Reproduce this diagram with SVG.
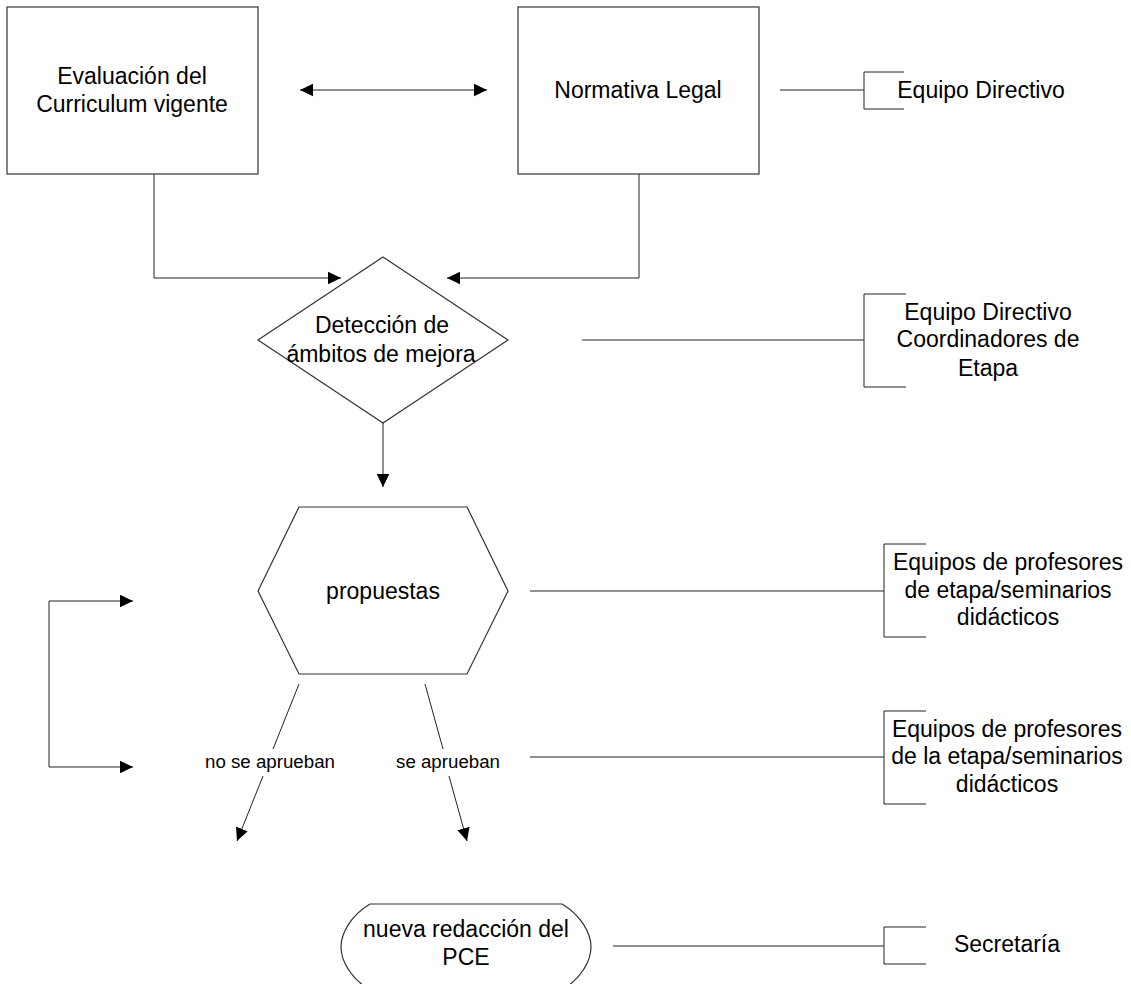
<svg xmlns="http://www.w3.org/2000/svg" width="1131" height="984" viewBox="0 0 1131 984">
<style>
.shape{fill:#fff;stroke:#333;stroke-width:1.2}
.ln{fill:none;stroke:#222;stroke-width:1}
.t{font-family:"Liberation Sans",Arial,sans-serif;font-size:23px;fill:#000;text-anchor:middle}
.s{font-family:"Liberation Sans",Arial,sans-serif;font-size:18.7px;fill:#000;text-anchor:middle}
</style>
<defs>
<marker id="ah" markerUnits="userSpaceOnUse" markerWidth="14" markerHeight="14" refX="13" refY="6.3" orient="auto-start-reverse" viewBox="0 0 14 13">
<path d="M0,0 L13,6.3 L0,12.6 Z" fill="#000"/>
</marker>
</defs>
<rect width="1131" height="984" fill="#fff"/>
<g id="connectors">
<line class="ln" x1="300" y1="90" x2="487" y2="90" marker-start="url(#ah)" marker-end="url(#ah)"/>
<polyline class="ln" points="154,174 154,278 341,278" marker-end="url(#ah)"/>
<polyline class="ln" points="639,174 639,278 447,278" marker-end="url(#ah)"/>
<line class="ln" x1="383" y1="423" x2="383" y2="487" marker-end="url(#ah)"/>
<polyline class="ln" points="133,601 49,601 49,767 133,767" marker-start="url(#ah)" marker-end="url(#ah)"/>
<line class="ln" x1="299" y1="684" x2="273" y2="749"/>
<line class="ln" x1="263" y1="776" x2="237" y2="841" marker-end="url(#ah)"/>
<line class="ln" x1="425" y1="684" x2="443" y2="749"/>
<line class="ln" x1="449" y1="776" x2="467" y2="841" marker-end="url(#ah)"/>
<line class="ln" x1="780" y1="90" x2="864" y2="90"/>
<line class="ln" x1="582" y1="340" x2="864" y2="340"/>
<line class="ln" x1="530" y1="591" x2="884" y2="591"/>
<line class="ln" x1="530" y1="757" x2="884" y2="757"/>
<line class="ln" x1="613" y1="946" x2="884" y2="946"/>
</g>
<g id="evaluacion">
<rect class="shape" x="7" y="7" width="251" height="167"/>
<text class="t" x="132" y="84">Evaluación del</text>
<text class="t" x="132" y="112">Curriculum vigente</text>
</g>
<g id="normativa">
<rect class="shape" x="518" y="7" width="241" height="167"/>
<text class="t" x="638" y="98">Normativa Legal</text>
</g>
<g id="resp1">
<polyline class="ln" points="904,72 864,72 864,109 904,109"/>
<text class="t" x="981" y="98">Equipo Directivo</text>
</g>
<g id="deteccion">
<polygon class="shape" points="383,257 508,340 383,423 258,340"/>
<text class="t" x="382" y="333">Detección de</text>
<text class="t" x="381" y="362">ámbitos de mejora</text>
</g>
<g id="resp2">
<polyline class="ln" points="906,294 864,294 864,387 906,387"/>
<text class="t" x="988" y="320">Equipo Directivo</text>
<text class="t" x="988" y="347">Coordinadores de</text>
<text class="t" x="988" y="376">Etapa</text>
</g>
<g id="propuestas">
<polygon class="shape" points="299,507 467,507 508,591 467,674 299,674 258,591"/>
<text class="t" x="383" y="599">propuestas</text>
</g>
<g id="resp3">
<polyline class="ln" points="926,544 884,544 884,637 926,637"/>
<text class="t" x="1008" y="570">Equipos de profesores</text>
<text class="t" x="1008" y="598">de etapa/seminarios</text>
<text class="t" x="1008" y="625">didácticos</text>
</g>
<g id="no-aprueban">
<text class="s" x="270" y="768">no se aprueban</text>
</g>
<g id="aprueban">
<text class="s" x="448" y="768">se aprueban</text>
</g>
<g id="resp4">
<polyline class="ln" points="926,711 884,711 884,804 926,804"/>
<text class="t" x="1007" y="737">Equipos de profesores</text>
<text class="t" x="1007" y="764">de la etapa/seminarios</text>
<text class="t" x="1007" y="792">didácticos</text>
</g>
<g id="nueva-redaccion">
<path class="shape" d="M370,904 H562 C582,916 591,934 591,947 C591,960 582,978 562,990 H370 C350,978 341,960 341,947 C341,934 350,916 370,904 Z"/>
<text class="t" x="466" y="937">nueva redacción del</text>
<text class="t" x="466" y="965">PCE</text>
</g>
<g id="resp5">
<polyline class="ln" points="926,927 884,927 884,964 926,964"/>
<text class="t" x="1007" y="952">Secretaría</text>
</g>
</svg>
